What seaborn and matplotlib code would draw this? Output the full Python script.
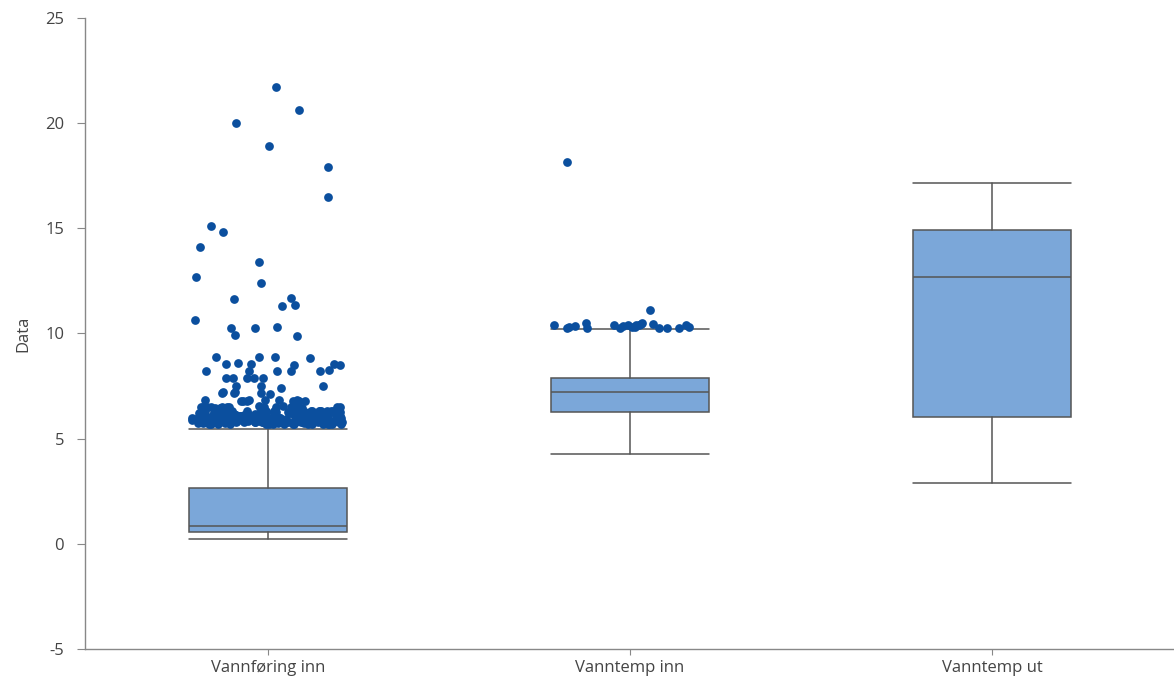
import numpy as np
import pandas as pd
import matplotlib
matplotlib.use("Agg")
import matplotlib.pyplot as plt
import seaborn as sns

categories = ["Vannføring inn", "Vanntemp inn", "Vanntemp ut"]

# box statistics
whisker_low = [0.24, 4.28, 2.89]
q1 = [0.55, 6.26, 6.02]
median = [0.86, 7.20, 12.70]
q3 = [2.65, 7.88, 14.93]
whisker_high = [5.45, 10.21, 17.15]

# outliers per category
outliers_vannforing = [
    21.7, 20.6, 20.0, 18.9, 17.9, 16.5, 15.1, 14.8, 14.1, 13.4,
    12.7, 12.4, 11.7, 11.65, 11.35, 11.3, 10.65, 10.3, 10.27, 10.25,
    9.9, 9.89, 8.9, 8.89, 8.88, 8.85, 8.6, 8.56, 8.55, 8.55, 8.5, 8.52,
    8.25, 8.22, 8.2, 8.2, 8.23, 8.21, 7.9, 7.88, 7.89, 7.9, 7.87,
    7.5, 7.52, 7.48, 7.4, 7.2, 7.18, 7.17, 7.2, 7.15, 7.1,
    6.85, 6.82, 6.8, 6.8, 6.78, 6.85, 6.8, 6.83, 6.8, 6.79, 6.84, 6.8,
    6.55, 6.5, 6.52, 6.48, 6.5, 6.55, 6.5, 6.45, 6.5, 6.53, 6.47, 6.5,
    6.5, 6.45, 6.52, 6.48, 6.5, 6.46, 6.5, 6.51,
    6.3, 6.28, 6.32, 6.25, 6.3, 6.27, 6.33, 6.3, 6.26, 6.29, 6.31, 6.28,
    6.3, 6.25, 6.3, 6.32, 6.27, 6.3, 6.28, 6.31, 6.26, 6.3, 6.29, 6.33,
    6.31, 6.27, 6.3, 6.29, 6.32, 6.28, 6.3, 6.26,
    6.2, 6.18, 6.22, 6.2, 6.19, 6.21, 6.2, 6.18, 6.22, 6.2, 6.19, 6.21,
    6.2, 6.18, 6.22, 6.2, 6.19, 6.21, 6.2, 6.18,
    6.1, 6.12, 6.08, 6.15, 6.1, 6.05, 6.12, 6.1, 6.08, 6.14, 6.1, 6.06,
    6.11, 6.09, 6.13, 6.1, 6.07, 6.12, 6.1, 6.08, 6.15, 6.1, 6.05, 6.11,
    6.09, 6.13, 6.1, 6.12, 6.08, 6.1, 6.06, 6.14, 6.1, 6.12, 6.08, 6.11,
    6.0, 6.02, 5.98, 6.01, 6.0, 5.99, 6.03, 6.0, 6.02, 5.98, 6.01, 6.0,
    6.0, 6.02, 5.98, 6.01, 6.0, 5.99, 6.03, 6.0,
    5.95, 5.92, 5.98, 5.9, 5.95, 5.93, 5.97, 5.91, 5.96, 5.94, 5.9, 5.98,
    5.95, 5.92, 5.97, 5.93, 5.96, 5.9, 5.94, 5.95, 5.92, 5.98, 5.93, 5.96,
    5.91, 5.97, 5.94, 5.95, 5.9, 5.93, 5.92, 5.96, 5.94, 5.91, 5.95, 5.97,
    5.85, 5.87, 5.83, 5.86, 5.85, 5.84, 5.88, 5.85, 5.86, 5.83, 5.87, 5.85,
    5.85, 5.87, 5.83, 5.86, 5.85, 5.84, 5.88, 5.85,
    5.8, 5.78, 5.82, 5.75, 5.8, 5.77, 5.83, 5.79, 5.81, 5.76, 5.8, 5.78,
    5.82, 5.79, 5.8, 5.77, 5.81, 5.78, 5.83, 5.8, 5.76, 5.79, 5.82, 5.8,
    5.78, 5.81, 5.77, 5.8, 5.79, 5.82, 5.78, 5.8,
    5.7, 5.68, 5.72, 5.7, 5.69, 5.71, 5.7, 5.68, 5.72, 5.7, 5.69, 5.71,
    5.7, 5.68, 5.72, 5.7, 5.69, 5.71, 5.7, 5.68,
]
outliers_vanntemp_inn = [
    18.15, 11.13, 10.5, 10.45, 10.42, 10.4, 10.38, 10.35, 10.3, 10.28,
    10.27, 10.25, 10.3, 10.35, 10.42, 10.5, 10.28, 10.32, 10.45, 10.26,
    10.38, 10.3, 10.4, 10.27,
]
outliers_vanntemp_ut = []

box_face = "#7BA7D9"
edge_col = "#555555"
dot_col = "#0B4F9E"

sns.set_style("white")
plt.rcParams["font.family"] = ["Open Sans", "DejaVu Sans"]
plt.rcParams["axes.unicode_minus"] = False

df = pd.DataFrame({
    "kategori": ["Vannføring inn"] * len(outliers_vannforing)
    + ["Vanntemp inn"] * len(outliers_vanntemp_inn)
    + ["Vanntemp ut"] * len(outliers_vanntemp_ut),
    "verdi": outliers_vannforing + outliers_vanntemp_inn + outliers_vanntemp_ut,
})

fig = plt.figure(figsize=(11.74, 6.86), dpi=100)
ax = fig.add_axes([0.0724, 0.054, 0.9276, 0.92])

np.random.seed(3)
sns.stripplot(data=df, x="kategori", y="verdi", order=categories,
              jitter=0.21, size=6.3, color=dot_col, linewidth=0,
              ax=ax, zorder=3)

stats = []
for i, name in enumerate(categories):
    stats.append({
        "label": name, "whislo": whisker_low[i], "q1": q1[i],
        "med": median[i], "q3": q3[i], "whishi": whisker_high[i],
        "fliers": [],
    })

ax.bxp(stats, positions=range(len(categories)), widths=0.435,
       capwidths=0.435, patch_artist=True, showfliers=False,
       manage_ticks=False,
       boxprops=dict(facecolor=box_face, edgecolor=edge_col, linewidth=1.1),
       medianprops=dict(color=edge_col, linewidth=1.1),
       whiskerprops=dict(color=edge_col, linewidth=1.1),
       capprops=dict(color=edge_col, linewidth=1.1),
       zorder=2)

ax.set_xlim(-0.505, 2.503)
ax.set_ylim(-5, 25)
ax.set_yticks([-5, 0, 5, 10, 15, 20, 25])
ax.set_xticks(range(len(categories)))
ax.set_xticklabels(categories)
ax.set_xlabel("")
ax.set_ylabel("Data", fontsize=12, color="#444444", labelpad=10)

for s in ["top", "right"]:
    ax.spines[s].set_visible(False)
for s in ["left", "bottom"]:
    ax.spines[s].set_color("#888888")
    ax.spines[s].set_linewidth(1)

ax.tick_params(axis="y", left=True, length=6, width=0.8, color="#888888",
               labelsize=12, labelcolor="#444444", pad=9)
ax.tick_params(axis="x", bottom=True, length=4, width=0.8, color="#888888",
               labelsize=12, labelcolor="#444444", pad=4)

fig.savefig("out.png", dpi=100)
